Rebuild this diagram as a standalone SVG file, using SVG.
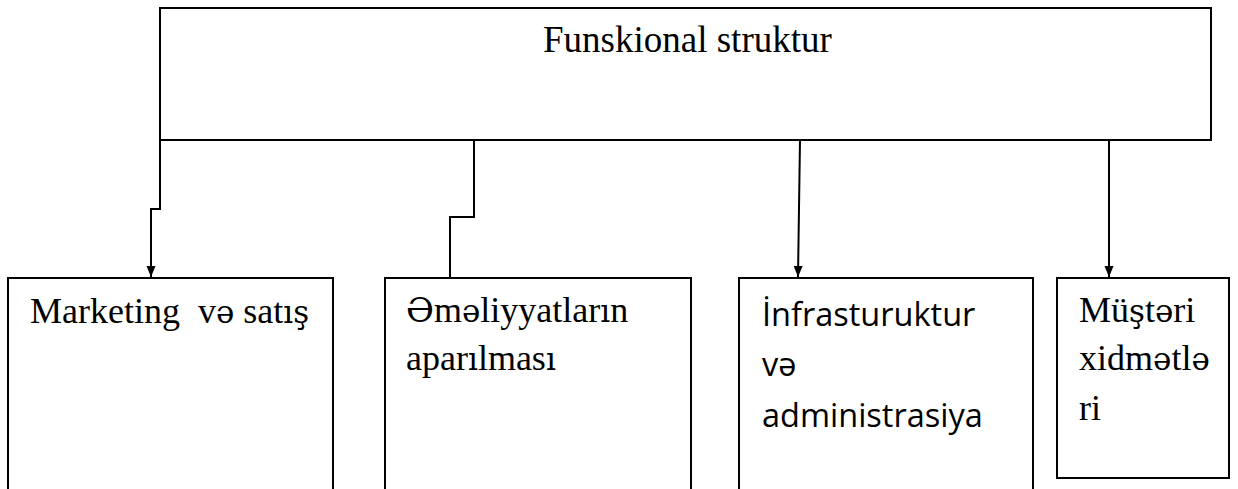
<svg xmlns="http://www.w3.org/2000/svg" width="1238" height="489" viewBox="0 0 1238 489">
  <defs>
    <marker id="arrow" markerUnits="userSpaceOnUse" markerWidth="12" markerHeight="12" viewBox="0 0 12 12" refX="11" refY="6" orient="auto">
      <path d="M0,1.5 L11,6 L0,10.5 Z" fill="#000"/>
    </marker>
    <style>
      .box { fill: #fff; stroke: #000; stroke-width: 2; }
      .serif { font-family: "Liberation Serif", "DejaVu Serif", "Times New Roman", serif; font-size: 36px; fill: #000; }
      /* Azerbaijani letters set in a serif that is sure to carry them */
      .az { font-family: "DejaVu Serif", "Liberation Serif", serif; font-size: 31px; }
      .sans { font-family: "Open Sans", "Noto Sans", sans-serif; font-size: 32.5px; fill: #000; }
      .link { fill: none; stroke: #000; stroke-width: 2; }
    </style>
  </defs>
  <rect width="1238" height="489" fill="#fff"/>

  <!-- top: the whole structure -->
  <g id="node-root">
    <rect class="box" x="160" y="8" width="1051" height="132"/>
    <text class="serif" x="543" y="52" style="font-size:37px">Funskional struktur</text>
  </g>

  <!-- departments -->
  <g id="node-marketing">
    <rect class="box" x="8" y="278" width="325" height="240"/>
    <text class="serif" x="30" y="323" xml:space="preserve">Marketing  v<tspan class="az">ə</tspan> sat<tspan class="az">ış</tspan></text>
  </g>

  <g id="node-operations">
    <rect class="box" x="385" y="278" width="306" height="240"/>
    <text class="serif" x="406" y="322"><tspan class="az" style="font-size:34px">Ə</tspan>m<tspan class="az">ə</tspan>liyyatlar<tspan class="az">ı</tspan>n</text>
    <text class="serif" x="406" y="370">apar<tspan class="az">ı</tspan>lmas<tspan class="az">ı</tspan></text>
  </g>

  <g id="node-infrastructure">
    <rect class="box" x="739" y="278" width="294" height="240"/>
    <text class="sans" x="762" y="326">İnfrasturuktur</text>
    <text class="sans" x="762" y="376">və</text>
    <text class="sans" x="762" y="427">administrasiya</text>
  </g>

  <g id="node-customers">
    <rect class="box" x="1057" y="278" width="172" height="200"/>
    <text class="serif" x="1079" y="322">Mü<tspan class="az">ş</tspan>t<tspan class="az">ə</tspan>ri</text>
    <text class="serif" x="1079" y="370">xidm<tspan class="az">ə</tspan>tl<tspan class="az">ə</tspan></text>
    <text class="serif" x="1079" y="420">ri</text>
  </g>

  <!-- connectors -->
  <g id="connectors">
    <path class="link" d="M160,140 V209 H151 V277" marker-end="url(#arrow)"/>
    <path class="link" d="M474,140 V217 H450 V278"/>
    <path class="link" d="M800,140 L798,277" marker-end="url(#arrow)"/>
    <path class="link" d="M1109,140 V277" marker-end="url(#arrow)"/>
  </g>
</svg>
